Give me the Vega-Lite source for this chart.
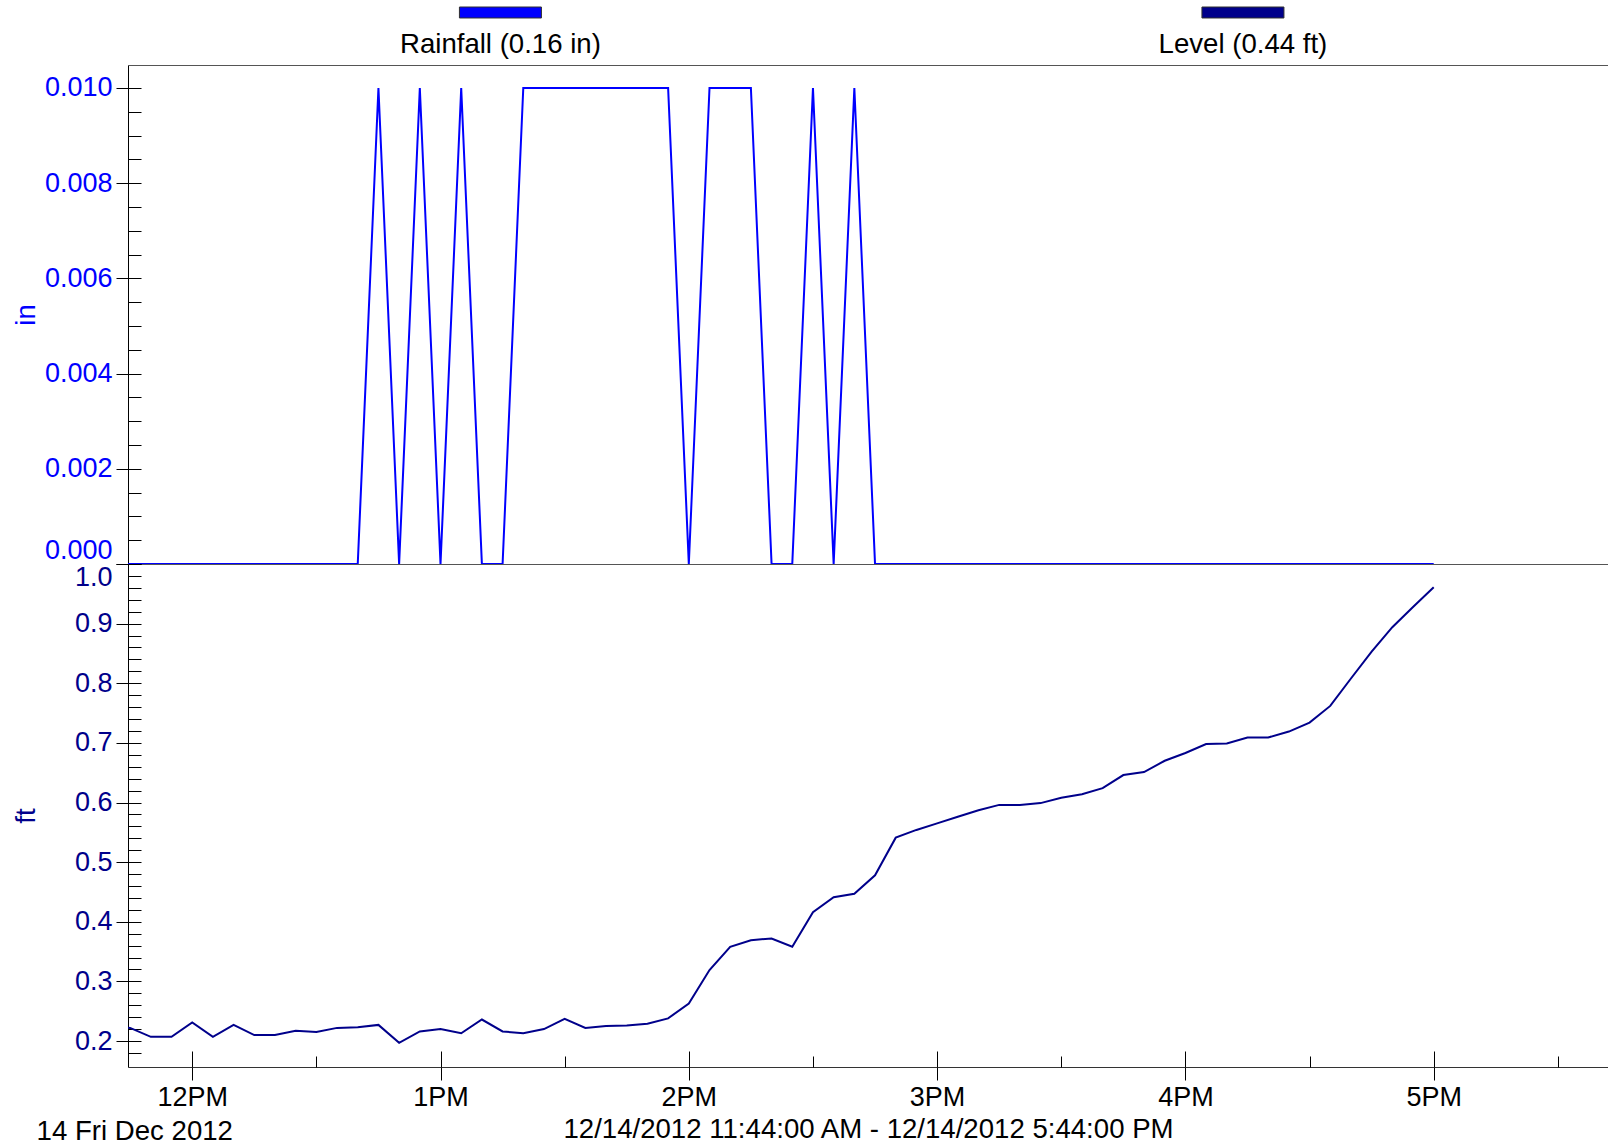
{
  "$schema": "https://vega.github.io/schema/vega-lite/v6.json",
  "background": "white",
  "padding": {"left": 12, "top": 0, "right": 0, "bottom": 0},
  "spacing": 0,
  "bounds": "flush",
  "config": {
    "view": {"stroke": null},
    "font": "Liberation Sans",
    "axis": {
      "labelFont": "Liberation Sans", "titleFont": "Liberation Sans",
      "labelFontSize": 27, "titleFontSize": 27.6, "titleFontWeight": "normal",
      "grid": false, "domainColor": "#000000", "tickColor": "#000000", "labelColor": "#000000", "titleColor": "#000000",
      "domainWidth": 1, "tickWidth": 1, "labelLimit": 0
    }
  },
  "datasets": {
    "legend": [
      {"name": "Rainfall (0.16 in)"},
      {"name": "Level (0.44 ft)"}
    ],
    "rain": [
      {"t": "2012-12-14T11:40:00", "in": 0}, {"t": "2012-12-14T11:45:00", "in": 0}, {"t": "2012-12-14T11:50:00", "in": 0}, {"t": "2012-12-14T11:55:00", "in": 0},
      {"t": "2012-12-14T12:00:00", "in": 0}, {"t": "2012-12-14T12:05:00", "in": 0}, {"t": "2012-12-14T12:10:00", "in": 0}, {"t": "2012-12-14T12:15:00", "in": 0},
      {"t": "2012-12-14T12:20:00", "in": 0}, {"t": "2012-12-14T12:25:00", "in": 0}, {"t": "2012-12-14T12:30:00", "in": 0}, {"t": "2012-12-14T12:35:00", "in": 0},
      {"t": "2012-12-14T12:40:00", "in": 0}, {"t": "2012-12-14T12:45:00", "in": 0.01}, {"t": "2012-12-14T12:50:00", "in": 0}, {"t": "2012-12-14T12:55:00", "in": 0.01},
      {"t": "2012-12-14T13:00:00", "in": 0}, {"t": "2012-12-14T13:05:00", "in": 0.01}, {"t": "2012-12-14T13:10:00", "in": 0}, {"t": "2012-12-14T13:15:00", "in": 0},
      {"t": "2012-12-14T13:20:00", "in": 0.01}, {"t": "2012-12-14T13:25:00", "in": 0.01}, {"t": "2012-12-14T13:30:00", "in": 0.01}, {"t": "2012-12-14T13:35:00", "in": 0.01},
      {"t": "2012-12-14T13:40:00", "in": 0.01}, {"t": "2012-12-14T13:45:00", "in": 0.01}, {"t": "2012-12-14T13:50:00", "in": 0.01}, {"t": "2012-12-14T13:55:00", "in": 0.01},
      {"t": "2012-12-14T14:00:00", "in": 0}, {"t": "2012-12-14T14:05:00", "in": 0.01}, {"t": "2012-12-14T14:10:00", "in": 0.01}, {"t": "2012-12-14T14:15:00", "in": 0.01},
      {"t": "2012-12-14T14:20:00", "in": 0}, {"t": "2012-12-14T14:25:00", "in": 0}, {"t": "2012-12-14T14:30:00", "in": 0.01}, {"t": "2012-12-14T14:35:00", "in": 0},
      {"t": "2012-12-14T14:40:00", "in": 0.01}, {"t": "2012-12-14T14:45:00", "in": 0}, {"t": "2012-12-14T14:50:00", "in": 0}, {"t": "2012-12-14T14:55:00", "in": 0},
      {"t": "2012-12-14T15:00:00", "in": 0}, {"t": "2012-12-14T15:05:00", "in": 0}, {"t": "2012-12-14T15:10:00", "in": 0}, {"t": "2012-12-14T15:15:00", "in": 0},
      {"t": "2012-12-14T15:20:00", "in": 0}, {"t": "2012-12-14T15:25:00", "in": 0}, {"t": "2012-12-14T15:30:00", "in": 0}, {"t": "2012-12-14T15:35:00", "in": 0},
      {"t": "2012-12-14T15:40:00", "in": 0}, {"t": "2012-12-14T15:45:00", "in": 0}, {"t": "2012-12-14T15:50:00", "in": 0}, {"t": "2012-12-14T15:55:00", "in": 0},
      {"t": "2012-12-14T16:00:00", "in": 0}, {"t": "2012-12-14T16:05:00", "in": 0}, {"t": "2012-12-14T16:10:00", "in": 0}, {"t": "2012-12-14T16:15:00", "in": 0},
      {"t": "2012-12-14T16:20:00", "in": 0}, {"t": "2012-12-14T16:25:00", "in": 0}, {"t": "2012-12-14T16:30:00", "in": 0}, {"t": "2012-12-14T16:35:00", "in": 0},
      {"t": "2012-12-14T16:40:00", "in": 0}, {"t": "2012-12-14T16:45:00", "in": 0}, {"t": "2012-12-14T16:50:00", "in": 0}, {"t": "2012-12-14T16:55:00", "in": 0},
      {"t": "2012-12-14T17:00:00", "in": 0}
    ],
    "level": [
      {"t": "2012-12-14T11:40:00", "ft": 0.224}, {"t": "2012-12-14T11:45:00", "ft": 0.222}, {"t": "2012-12-14T11:50:00", "ft": 0.207}, {"t": "2012-12-14T11:55:00", "ft": 0.207},
      {"t": "2012-12-14T12:00:00", "ft": 0.231}, {"t": "2012-12-14T12:05:00", "ft": 0.207}, {"t": "2012-12-14T12:10:00", "ft": 0.227}, {"t": "2012-12-14T12:15:00", "ft": 0.210},
      {"t": "2012-12-14T12:20:00", "ft": 0.210}, {"t": "2012-12-14T12:25:00", "ft": 0.217}, {"t": "2012-12-14T12:30:00", "ft": 0.215}, {"t": "2012-12-14T12:35:00", "ft": 0.222},
      {"t": "2012-12-14T12:40:00", "ft": 0.223}, {"t": "2012-12-14T12:45:00", "ft": 0.227}, {"t": "2012-12-14T12:50:00", "ft": 0.197}, {"t": "2012-12-14T12:55:00", "ft": 0.216},
      {"t": "2012-12-14T13:00:00", "ft": 0.220}, {"t": "2012-12-14T13:05:00", "ft": 0.213}, {"t": "2012-12-14T13:10:00", "ft": 0.236}, {"t": "2012-12-14T13:15:00", "ft": 0.216},
      {"t": "2012-12-14T13:20:00", "ft": 0.213}, {"t": "2012-12-14T13:25:00", "ft": 0.220}, {"t": "2012-12-14T13:30:00", "ft": 0.237}, {"t": "2012-12-14T13:35:00", "ft": 0.222},
      {"t": "2012-12-14T13:40:00", "ft": 0.225}, {"t": "2012-12-14T13:45:00", "ft": 0.226}, {"t": "2012-12-14T13:50:00", "ft": 0.229}, {"t": "2012-12-14T13:55:00", "ft": 0.238},
      {"t": "2012-12-14T14:00:00", "ft": 0.263}, {"t": "2012-12-14T14:05:00", "ft": 0.319}, {"t": "2012-12-14T14:10:00", "ft": 0.358}, {"t": "2012-12-14T14:15:00", "ft": 0.369},
      {"t": "2012-12-14T14:20:00", "ft": 0.372}, {"t": "2012-12-14T14:25:00", "ft": 0.358}, {"t": "2012-12-14T14:30:00", "ft": 0.416}, {"t": "2012-12-14T14:35:00", "ft": 0.441},
      {"t": "2012-12-14T14:40:00", "ft": 0.447}, {"t": "2012-12-14T14:45:00", "ft": 0.478}, {"t": "2012-12-14T14:50:00", "ft": 0.541}, {"t": "2012-12-14T14:55:00", "ft": 0.554},
      {"t": "2012-12-14T15:00:00", "ft": 0.565}, {"t": "2012-12-14T15:05:00", "ft": 0.576}, {"t": "2012-12-14T15:10:00", "ft": 0.587}, {"t": "2012-12-14T15:15:00", "ft": 0.596},
      {"t": "2012-12-14T15:20:00", "ft": 0.596}, {"t": "2012-12-14T15:25:00", "ft": 0.599}, {"t": "2012-12-14T15:30:00", "ft": 0.608}, {"t": "2012-12-14T15:35:00", "ft": 0.614},
      {"t": "2012-12-14T15:40:00", "ft": 0.624}, {"t": "2012-12-14T15:45:00", "ft": 0.646}, {"t": "2012-12-14T15:50:00", "ft": 0.651}, {"t": "2012-12-14T15:55:00", "ft": 0.670},
      {"t": "2012-12-14T16:00:00", "ft": 0.683}, {"t": "2012-12-14T16:05:00", "ft": 0.698}, {"t": "2012-12-14T16:10:00", "ft": 0.699}, {"t": "2012-12-14T16:15:00", "ft": 0.709},
      {"t": "2012-12-14T16:20:00", "ft": 0.709}, {"t": "2012-12-14T16:25:00", "ft": 0.719}, {"t": "2012-12-14T16:30:00", "ft": 0.734}, {"t": "2012-12-14T16:35:00", "ft": 0.762},
      {"t": "2012-12-14T16:40:00", "ft": 0.808}, {"t": "2012-12-14T16:45:00", "ft": 0.853}, {"t": "2012-12-14T16:50:00", "ft": 0.894}, {"t": "2012-12-14T16:55:00", "ft": 0.928},
      {"t": "2012-12-14T17:00:00", "ft": 0.961}
    ]
  },
  "vconcat": [
    {
      "width": 1480, "height": 65,
      "data": {"name": "legend"},
      "layer": [
        {
          "mark": {"type": "point", "shape": "M-1,-0.134L1,-0.134L1,0.134L-1,0.134Z", "size": 6724, "filled": true, "opacity": 1, "stroke": "#303030", "strokeWidth": 1, "yOffset": -20},
          "encoding": {
            "x": {"field": "name", "type": "nominal", "sort": null, "scale": {"type": "point", "padding": 0.4966, "align": 0.505}, "axis": null},
            "color": {"field": "name", "type": "nominal", "sort": null, "scale": {"domain": ["Rainfall (0.16 in)", "Level (0.44 ft)"], "range": ["#0000FF", "#00008B"]}, "legend": null}
          }
        },
        {
          "mark": {"type": "text", "fontSize": 27.6, "font": "Liberation Sans", "color": "#000000", "baseline": "middle", "align": "center", "yOffset": 12},
          "encoding": {
            "x": {"field": "name", "type": "nominal", "sort": null, "scale": {"type": "point", "padding": 0.4966, "align": 0.505}, "axis": null},
            "text": {"field": "name", "type": "nominal"}
          }
        }
      ]
    },
    {
      "width": 1480, "height": 499,
      "data": {"name": "rain"},
      "layer": [
        {
          "mark": {"type": "line", "color": "#0000FF", "strokeWidth": 2, "clip": true},
          "encoding": {
            "x": {"field": "t", "type": "temporal",
              "scale": {"domain": [{"year": 2012, "month": 12, "date": 14, "hours": 11, "minutes": 44, "seconds": 29}, {"year": 2012, "month": 12, "date": 14, "hours": 17, "minutes": 42, "seconds": 7}]},
              "axis": {"orient": "top", "domain": true, "domainColor": "#555555", "ticks": false, "labels": false, "title": null}},
            "y": {"field": "in", "type": "quantitative",
              "scale": {"domain": [0, 0.010483], "nice": false, "zero": false},
              "axis": {"orient": "left", "values": [0, 0.002, 0.004, 0.006, 0.008, 0.010], "format": ".3f", "labelColor": "#0000FF", "tickSize": 12, "labelPadding": 4, "labelFlush": true, "minExtent": 84, "maxExtent": 84, "title": "in", "titleColor": "#0000FF", "titlePadding": 4}}
          }
        },
        {
          "mark": {"type": "line", "opacity": 0, "clip": true},
          "encoding": {
            "x": {"field": "t", "type": "temporal",
              "scale": {"domain": [{"year": 2012, "month": 12, "date": 14, "hours": 11, "minutes": 44, "seconds": 29}, {"year": 2012, "month": 12, "date": 14, "hours": 17, "minutes": 42, "seconds": 7}]},
              "axis": {"orient": "bottom", "domain": true, "domainColor": "#555555", "ticks": false, "labels": false, "title": null}},
            "y": {"field": "in", "type": "quantitative",
              "scale": {"domain": [0, 0.010483], "nice": false, "zero": false},
              "axis": {"orient": "left", "values": [0, 0.0005, 0.001, 0.0015, 0.002, 0.0025, 0.003, 0.0035, 0.004, 0.0045, 0.005, 0.0055, 0.006, 0.0065, 0.007, 0.0075, 0.008, 0.0085, 0.009, 0.0095, 0.010], "tickSize": -13, "labels": false, "domain": false, "title": null}}
          }
        }
      ],
      "resolve": {"axis": {"x": "independent", "y": "independent"}}
    },
    {
      "width": 1480, "height": 503,
      "data": {"name": "level"},
      "layer": [
        {
          "mark": {"type": "line", "color": "#00008B", "strokeWidth": 2, "clip": true},
          "encoding": {
            "x": {"field": "t", "type": "temporal",
              "scale": {"domain": [{"year": 2012, "month": 12, "date": 14, "hours": 11, "minutes": 44, "seconds": 29}, {"year": 2012, "month": 12, "date": 14, "hours": 17, "minutes": 42, "seconds": 7}]},
              "axis": {"orient": "bottom", "values": [
                  {"year": 2012, "month": 12, "date": 14, "hours": 12}, {"year": 2012, "month": 12, "date": 14, "hours": 13}, {"year": 2012, "month": 12, "date": 14, "hours": 14},
                  {"year": 2012, "month": 12, "date": 14, "hours": 15}, {"year": 2012, "month": 12, "date": 14, "hours": 16}, {"year": 2012, "month": 12, "date": 14, "hours": 17}],
                "format": "%-I%p", "tickSize": 13, "labelPadding": 4, "domain": true, "domainColor": "#333333",
                "title": "12/14/2012 11:44:00 AM - 12/14/2012 5:44:00 PM", "titlePadding": 5}},
            "y": {"field": "ft", "type": "quantitative",
              "scale": {"domain": [0.1564, 1.0], "nice": false, "zero": false},
              "axis": {"orient": "left", "values": [0.2, 0.3, 0.4, 0.5, 0.6, 0.7, 0.8, 0.9, 1.0], "format": ".1f", "labelColor": "#00008B", "tickSize": 12, "labelPadding": 4, "labelFlush": true, "minExtent": 84, "maxExtent": 84, "title": "ft", "titleColor": "#00008B", "titlePadding": 4}}
          }
        },
        {
          "mark": {"type": "line", "opacity": 0, "clip": true},
          "encoding": {
            "x": {"field": "t", "type": "temporal",
              "scale": {"domain": [{"year": 2012, "month": 12, "date": 14, "hours": 11, "minutes": 44, "seconds": 29}, {"year": 2012, "month": 12, "date": 14, "hours": 17, "minutes": 42, "seconds": 7}]},
              "axis": {"orient": "bottom", "values": [
                  {"year": 2012, "month": 12, "date": 14, "hours": 12}, {"year": 2012, "month": 12, "date": 14, "hours": 13}, {"year": 2012, "month": 12, "date": 14, "hours": 14},
                  {"year": 2012, "month": 12, "date": 14, "hours": 15}, {"year": 2012, "month": 12, "date": 14, "hours": 16}, {"year": 2012, "month": 12, "date": 14, "hours": 17}],
                "tickSize": -16, "labels": false, "domain": false, "title": null}},
            "y": {"field": "ft", "type": "quantitative",
              "scale": {"domain": [0.1564, 1.0], "nice": false, "zero": false},
              "axis": {"orient": "left", "values": [0.18, 0.2, 0.22, 0.24, 0.26, 0.28, 0.3, 0.32, 0.34, 0.36, 0.38, 0.4, 0.42, 0.44, 0.46, 0.48, 0.5, 0.52, 0.54, 0.56, 0.58, 0.6, 0.62, 0.64, 0.66, 0.68, 0.7, 0.72, 0.74, 0.76, 0.78, 0.8, 0.82, 0.84, 0.86, 0.88, 0.9, 0.92, 0.94, 0.96, 0.98, 1.0], "tickSize": -13, "labels": false, "domain": false, "title": null}}
          }
        },
        {
          "mark": {"type": "line", "opacity": 0, "clip": true},
          "encoding": {
            "x": {"field": "t", "type": "temporal",
              "scale": {"domain": [{"year": 2012, "month": 12, "date": 14, "hours": 11, "minutes": 44, "seconds": 29}, {"year": 2012, "month": 12, "date": 14, "hours": 17, "minutes": 42, "seconds": 7}]},
              "axis": {"orient": "bottom", "values": [
                  {"year": 2012, "month": 12, "date": 14, "hours": 12, "minutes": 30}, {"year": 2012, "month": 12, "date": 14, "hours": 13, "minutes": 30}, {"year": 2012, "month": 12, "date": 14, "hours": 14, "minutes": 30},
                  {"year": 2012, "month": 12, "date": 14, "hours": 15, "minutes": 30}, {"year": 2012, "month": 12, "date": 14, "hours": 16, "minutes": 30}, {"year": 2012, "month": 12, "date": 14, "hours": 17, "minutes": 30}],
                "tickSize": -11, "labels": false, "domain": false, "title": null}},
            "y": {"field": "ft", "type": "quantitative",
              "scale": {"domain": [0.1564, 1.0], "nice": false, "zero": false},
              "axis": null}
          }
        },
        {
          "mark": {"type": "line", "opacity": 0, "clip": true},
          "encoding": {
            "x": {"field": "t", "type": "temporal",
              "scale": {"domain": [{"year": 2012, "month": 12, "date": 14, "hours": 11, "minutes": 44, "seconds": 29}, {"year": 2012, "month": 12, "date": 14, "hours": 17, "minutes": 42, "seconds": 7}]},
              "axis": {"orient": "bottom", "values": [{"year": 2012, "month": 12, "date": 14, "hours": 11, "minutes": 46}],
                "format": "%d %a %b %Y", "ticks": false, "labelPadding": 50, "labelFlush": false, "labelFontSize": 27.6, "labelLimit": 0, "domain": false, "title": null}},
            "y": {"field": "ft", "type": "quantitative",
              "scale": {"domain": [0.1564, 1.0], "nice": false, "zero": false},
              "axis": null}
          }
        }
      ],
      "resolve": {"axis": {"x": "independent", "y": "independent"}}
    }
  ]
}
